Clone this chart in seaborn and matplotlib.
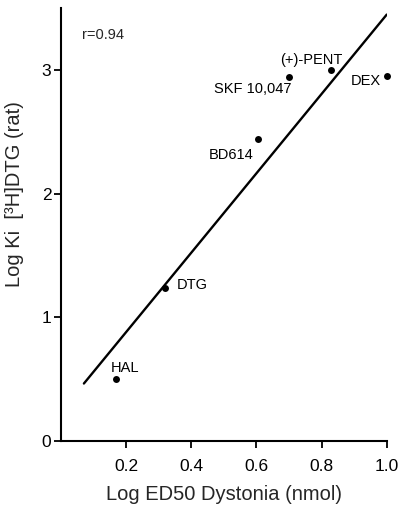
import numpy as np
import pandas as pd
import matplotlib
matplotlib.use("Agg")
import matplotlib.pyplot as plt
import seaborn as sns

# Data
compounds = ["HAL", "DTG", "BD614", "SKF 10,047", "(+)-PENT", "DEX"]
log_ed50 = [0.17, 0.32, 0.605, 0.70, 0.83, 1.0]
log_ki = [0.50, 1.24, 2.44, 2.94, 3.00, 2.95]

# label offsets (points) and alignment for each compound
label_offsets = [(6.5, 8), (8, 2), (-3.5, -11.5), (2, -8.6), (8, 7), (-4, -3.6)]
label_ha = ["center", "left", "right", "right", "right", "right"]

line_range = [0.07, 1.0]


def main():
    df = pd.DataFrame({"compound": compounds, "x": log_ed50, "y": log_ki})

    sns.set_theme(style="ticks")
    plt.rcParams["font.family"] = ["Liberation Sans", "DejaVu Sans"]

    fig = plt.figure(figsize=(4.02, 5.11), dpi=100)
    ax = fig.add_axes([0.152, 0.137, 0.810, 0.847])

    # regression line
    slope, intercept = np.polyfit(df["x"], df["y"], 1)
    r = np.corrcoef(df["x"], df["y"])[0, 1]
    lx = np.array(line_range)
    sns.lineplot(x=lx, y=slope * lx + intercept, ax=ax, color="black", lw=1.7)

    sns.scatterplot(data=df, x="x", y="y", ax=ax, color="black", s=25,
                    edgecolor="black", linewidth=0, zorder=3, clip_on=False)

    for name, x, y, off, ha in zip(compounds, log_ed50, log_ki, label_offsets, label_ha):
        ax.annotate(name, (x, y), xytext=off, textcoords="offset points",
                    ha=ha, va="center", fontsize=10.5, color="black")

    ax.text(0.064, 0.937, f"r={r:.2f}", transform=ax.transAxes,
            ha="left", va="center", fontsize=10.5)

    ax.set_xlim(0, 1.0)
    ax.set_ylim(0, 3.5)
    ax.set_xticks([0.2, 0.4, 0.6, 0.8, 1.0])
    ax.set_xticklabels(["0.2", "0.4", "0.6", "0.8", "1.0"])
    ax.set_yticks([0, 1, 2, 3])
    ax.tick_params(axis="both", direction="out", length=5, width=1.3,
                   labelsize=12.5, color="black", labelcolor="black")
    ax.tick_params(axis="x", pad=8)
    ax.tick_params(axis="y", pad=2)

    for side in ["left", "bottom"]:
        ax.spines[side].set_linewidth(1.5)
        ax.spines[side].set_color("black")
    sns.despine(ax=ax)

    ax.set_xlabel("Log ED50 Dystonia (nmol)", fontsize=14.5, labelpad=8)
    ax.set_ylabel("Log Ki  [³H]DTG (rat)", fontsize=14.5)
    ax.yaxis.set_label_coords(-0.115, 0.57)

    fig.savefig("out.png", dpi=100)
    plt.close(fig)


if __name__ == "__main__":
    main()
